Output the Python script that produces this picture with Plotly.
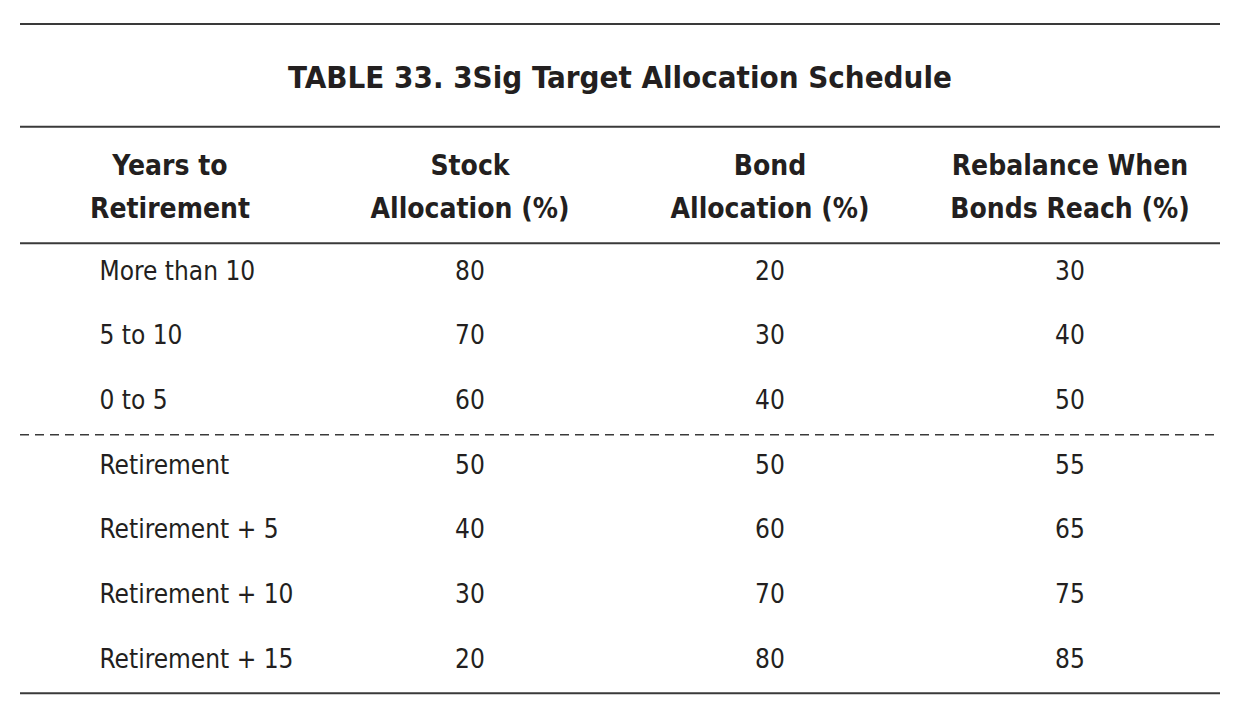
import plotly.graph_objects as go

# table content
title = "TABLE 33. 3Sig Target Allocation Schedule"
headers_top = ["Years to", "Stock", "Bond", "Rebalance When"]
headers_bottom = ["Retirement", "Allocation (%)", "Allocation (%)", "Bonds Reach (%)"]
periods = ["More than 10", "5 to 10", "0 to 5", "Retirement",
           "Retirement + 5", "Retirement + 10", "Retirement + 15"]
stock_alloc = [80, 70, 60, 50, 40, 30, 20]
bond_alloc = [20, 30, 40, 50, 60, 70, 80]
rebalance_at = [30, 40, 50, 55, 65, 75, 85]
split_after = 2  # dashed line after "0 to 5" (pre/post retirement)

FONT = "Liberation Sans Narrow, DejaVu Sans Condensed, Arial Narrow, sans-serif"
INK = "#231f20"
RULE = "#3a3a3a"

rows = list(range(len(periods)))
n_cols = len(headers_top)

# page body has an 8px margin, so the plot area is 1231x698 starting at (8, 8)
# columns sit 300px apart (first at page x=170), rows 64.67px apart (first at y=273)
COL0, COL_W = 170, 300
ROW0, ROW_H = 273, 64.67
W, H, OFF = 1231, 698, 8

fig = go.Figure()

# title
fig.add_trace(go.Scatter(
    x=[(n_cols - 1) / 2], y=[-2.98], mode="text", text=[title],
    textposition="middle center",
    textfont=dict(family=FONT, size=31, color=INK, weight="bold"),
    hoverinfo="skip"
))

# column headers, two lines each
for yy, labels in [(-1.62, headers_top), (-0.955, headers_bottom)]:
    fig.add_trace(go.Scatter(
        x=list(range(n_cols)), y=[yy] * n_cols, mode="text", text=labels,
        textposition="middle center",
        textfont=dict(family=FONT, size=28, color=INK, weight="bold"),
        hoverinfo="skip"
    ))

# first column, left aligned
fig.add_trace(go.Scatter(
    x=[-0.235] * len(periods), y=rows, mode="text", text=periods,
    textposition="middle right",
    textfont=dict(family=FONT, size=26, color=INK),
    hoverinfo="skip"
))

# numeric columns
for col, values in enumerate([stock_alloc, bond_alloc, rebalance_at], start=1):
    fig.add_trace(go.Scatter(
        x=[col] * len(values), y=rows, mode="text",
        text=[str(v) for v in values],
        textposition="middle center",
        textfont=dict(family=FONT, size=26, color=INK),
        hoverinfo="skip"
    ))

# horizontal rules
for yy in [-3.85, -2.26, -0.46, len(periods) - 0.5]:
    fig.add_shape(type="line", x0=-0.5, x1=n_cols - 0.5, y0=yy, y1=yy,
                  xref="x", yref="y", line=dict(color=RULE, width=2))
fig.add_shape(type="line", x0=-0.5, x1=n_cols - 0.5,
              y0=split_after + 0.5, y1=split_after + 0.5,
              xref="x", yref="y", line=dict(color=RULE, width=1.5, dash="9px,6px"))

fig.update_layout(
    width=W, height=H,
    margin=dict(l=0, r=0, t=0, b=0),
    paper_bgcolor="white", plot_bgcolor="white",
    showlegend=False,
    xaxis=dict(range=[(OFF - COL0) / COL_W, (OFF + W - COL0) / COL_W],
               visible=False, fixedrange=True),
    yaxis=dict(range=[(OFF + H - ROW0) / ROW_H, (OFF - ROW0) / ROW_H],
               visible=False, fixedrange=True),
)

fig.write_html("out.html", config={"displayModeBar": False})
